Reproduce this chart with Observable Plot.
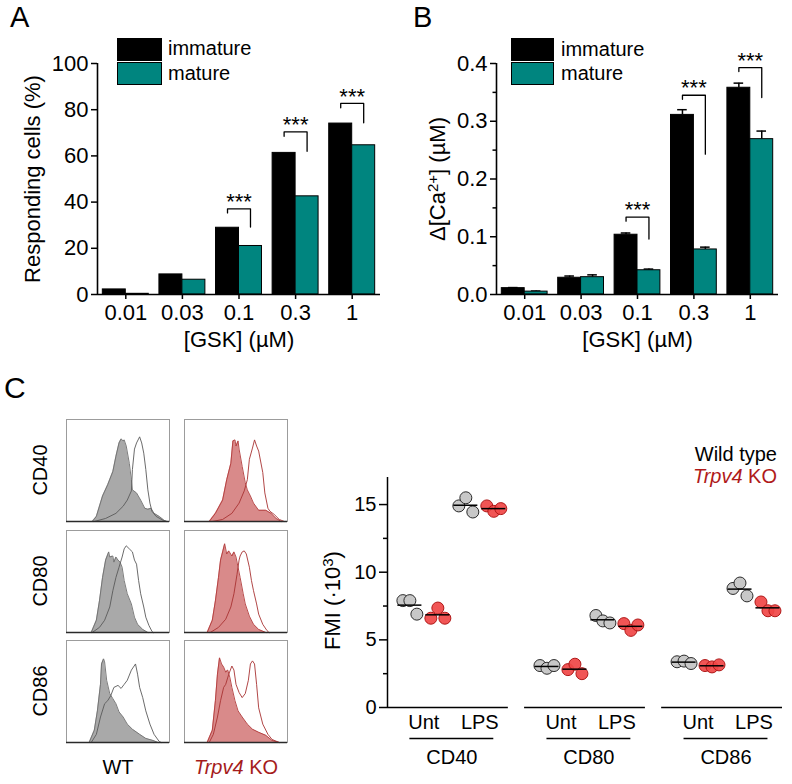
<!DOCTYPE html>
<html>
<head>
<meta charset="utf-8">
<script src="https://cdn.jsdelivr.net/npm/d3@7"></script>
<script src="https://cdn.jsdelivr.net/npm/@observablehq/plot@0.6"></script>
<style>
  body { margin: 0; background: #fff; font-family: "Liberation Sans", Arial, Helvetica, sans-serif; }
  #fig { position: relative; width: 792px; height: 784px; overflow: hidden; background: #fff; }
  .t { position: absolute; white-space: nowrap; line-height: 1; color: #000; }
  .sw { position: absolute; box-sizing: border-box; border: 1.5px solid #000; }
</style>
</head>
<body>
<div id="fig"></div>
<script>
// ---------------- DATA ----------------
const doses = ["0.01", "0.03", "0.1", "0.3", "1"];
// Panel A: responding cells (%)
const respImmature = [2.2, 8.7, 28.9, 61.3, 74.0];
const respMature   = [0.3, 6.4, 21.0, 42.5, 64.6];
const sigAIndex = [2, 3, 4];
const sigATop   = [37.1, 70.4, 82.7];
const sigALeft  = [35.3, 68.5, 80.8];
const sigARight = [29.2, 62.0, 74.3];
// Panel B: delta [Ca2+] (uM)
const caImmature    = [0.011, 0.029, 0.1035, 0.311, 0.358];
const caImmatureErr = [0.001, 0.003, 0.003, 0.009, 0.008];
const caMature      = [0.005, 0.030, 0.042, 0.078, 0.269];
const caMatureErr   = [0.001, 0.004, 0.002, 0.004, 0.014];
const sigBIndex = [2, 3, 4];
const sigBTop   = [0.134, 0.345, 0.393];
const sigBLeft  = [0.127, 0.338, 0.386];
const sigBRight = [0.096, 0.243, 0.341];
const ticksA = [0, 20, 40, 60, 80, 100];
const ticksB = [0, 0.1, 0.2, 0.3, 0.4];
const minorB = [0.05, 0.15, 0.25, 0.35];

// Panel C: histograms ([x %, count %] read from each box)
const wtCD40Unt = [[25,0],[29,5],[35,25],[40,36],[45,49],[48,64],[51,77],[53,81],[55,79],[56,80],[58,74],[61,57],[63,41],[64,31],[68,28],[72,21],[76,13],[79,12],[82,13],[85,8],[90,5],[95,1],[97,0]];
const wtCD40LPS = [[27,0],[38,3],[48,8],[55,15],[59,21],[63,30],[64,51],[66,71],[68,77],[71,83],[73,77],[75,67],[77,51],[79,31],[81,18],[83,10],[87,5],[94,1],[98,0]];
const koCD40Unt = [[24,0],[30,8],[37,21],[41,41],[45,57],[47,79],[49,80],[50,74],[52,79],[53,71],[56,54],[59,38],[61,31],[64,25],[67,18],[72,11],[79,11],[84,8],[89,3],[94,0]];
const koCD40LPS = [[27,0],[37,2],[46,8],[53,18],[58,30],[61,41],[63,61],[66,72],[68,80],[70,74],[72,69],[76,48],[78,28],[81,13],[83,10],[87,7],[92,2],[97,0]];
const wtCD80Unt = [[24,0],[29,12],[32,31],[35,54],[38,71],[41,79],[42,74],[45,75],[46,69],[48,74],[50,71],[52,69],[54,64],[56,51],[59,38],[63,28],[66,15],[69,8],[74,3],[79,0]];
const wtCD80LPS = [[25,0],[32,5],[37,12],[42,25],[45,41],[48,54],[51,64],[54,74],[56,82],[58,85],[61,82],[64,79],[66,71],[68,67],[70,51],[72,38],[75,25],[77,15],[80,7],[83,1],[84,0]];
const koCD80Unt = [[22,0],[27,12],[30,31],[33,54],[35,71],[37,79],[39,87],[41,77],[43,80],[46,75],[48,79],[50,74],[52,64],[54,54],[57,38],[59,28],[63,16],[67,8],[72,3],[79,0]];
const koCD80LPS = [[25,0],[33,5],[40,13],[45,25],[48,38],[51,57],[53,71],[54,75],[56,79],[58,80],[60,77],[63,64],[65,51],[67,41],[70,28],[72,18],[76,8],[80,2],[82,0]];
const wtCD86Unt = [[22,0],[27,12],[30,31],[33,57],[34,77],[36,82],[37,79],[39,61],[42,48],[45,43],[48,38],[51,30],[55,25],[59,18],[64,13],[71,8],[77,4],[84,2],[89,0]];
const wtCD86LPS = [[24,0],[29,8],[33,25],[37,38],[40,41],[43,46],[46,54],[50,56],[53,53],[56,57],[59,61],[63,71],[65,74],[67,77],[69,67],[71,54],[74,44],[77,31],[81,18],[85,8],[90,1],[92,0]];
const koCD86Unt = [[22,0],[27,12],[30,41],[32,67],[34,83],[36,77],[38,74],[40,69],[42,71],[44,64],[46,54],[49,41],[52,31],[56,25],[61,18],[66,13],[72,10],[79,7],[85,2],[92,0]];
const koCD86LPS = [[24,0],[28,8],[32,25],[35,41],[38,54],[40,57],[43,67],[46,75],[48,71],[50,57],[53,49],[56,44],[59,48],[62,61],[64,77],[66,80],[68,77],[70,57],[72,34],[76,18],[81,8],[85,3],[92,0]];

// Panel C: FMI (x10^3), three replicates each, per marker CD40, CD80, CD86
const markers = ["CD40", "CD80", "CD86"];
const treatments = ["Unt", "LPS"];
const fmiWTUnt  = [[7.9, 7.9, 6.9],   [3.1, 2.9, 3.1],   [3.38, 3.43, 3.25]];
const fmiKOUnt  = [[6.6, 7.35, 6.6],  [2.8, 3.2, 2.5],   [3.1, 3.0, 3.15]];
const fmiWTLPS  = [[14.9, 15.5, 14.45],[6.8, 6.4, 6.25], [8.8, 9.2, 8.25]];
const fmiKOLPS  = [[14.9, 14.5, 14.7],[6.2, 5.7, 6.1],   [7.8, 7.15, 7.15]];
const fmiTicks = [0, 5, 10, 15];
const fmiMinor = [2.5, 7.5, 12.5];

// ---------------- STYLE ----------------
const FONT = '"Liberation Sans", Arial, Helvetica, sans-serif';
const TEAL = "#00857f";
const KO_TEXT = "#a51c1c";
const fig = document.getElementById("fig");

function place(node, left, top, w) {
  const d = document.createElement("div");
  d.style.position = "absolute";
  d.style.left = left + "px";
  d.style.top = top + "px";
  if (w) d.style.width = w + "px";
  d.appendChild(node);
  fig.appendChild(d);
  return d;
}
function text(html, left, top, size, opts = {}) {
  const d = document.createElement("div");
  d.className = "t";
  d.innerHTML = html;
  d.style.left = left + "px";
  d.style.top = top + "px";
  d.style.fontSize = size + "px";
  if (opts.color) d.style.color = opts.color;
  if (opts.align === "right") d.style.transform = "translateX(-100%)";
  if (opts.align === "center") d.style.transform = "translateX(-50%)";
  fig.appendChild(d);
  return d;
}
function swatch(left, top, w, h, color) {
  const d = document.createElement("div");
  d.className = "sw";
  d.style.left = left + "px"; d.style.top = top + "px";
  d.style.width = w + "px"; d.style.height = h + "px";
  d.style.background = color;
  fig.appendChild(d);
}
function setLabel(svg, axisName, html) {
  const t = svg.querySelector(`g[aria-label="${axisName}"] text`);
  if (t) t.innerHTML = html;
  return t;
}

// ---------------- BAR PANELS ----------------
const W = 0.406; // bar width in category units
function barPanel(o) {
  const imm = doses.map((d, i) => ({x1: i - W, x2: i, xc: i - W / 2, v: o.imm[i], e: o.immErr ? o.immErr[i] : 0}));
  const mat = doses.map((d, i) => ({x1: i, x2: i + W, xc: i + W / 2, v: o.mat[i], e: o.matErr ? o.matErr[i] : 0}));
  const bracket = o.sigIdx.flatMap((i, k) => [
    {k, x: i - W / 2, y: o.sigLeft[k]},
    {k, x: i - W / 2, y: o.sigTop[k]},
    {k, x: i + W / 2, y: o.sigTop[k]},
    {k, x: i + W / 2, y: o.sigRight[k]}
  ]);
  const stars = o.sigIdx.map((i, k) => ({x: i, y: o.sigTop[k]}));
  const errs = o.immErr ? imm.concat(mat) : [];
  const marks = [
    Plot.ruleX(errs, {x: "xc", y1: "v", y2: d => d.v + d.e, strokeWidth: 1.5}),
    Plot.ruleY(errs, {y: d => d.v + d.e, x1: d => d.xc - 0.085, x2: d => d.xc + 0.085, strokeWidth: 1.5}),
    Plot.rectY(imm, {x1: "x1", x2: "x2", y1: 0, y2: "v", fill: "black", stroke: "black", strokeWidth: 1}),
    Plot.rectY(mat, {x1: "x1", x2: "x2", y1: 0, y2: "v", fill: TEAL, stroke: "black", strokeWidth: 1}),
    Plot.line(bracket, {x: "x", y: "y", z: "k", stroke: "black", strokeWidth: 1.3}),
    Plot.text(stars, {x: "x", y: "y", text: () => "***", fontSize: 22, dy: -7, lineAnchor: "middle"}),
    Plot.ruleY([0], {strokeWidth: 1.6}),
    Plot.ruleX([-0.5], {strokeWidth: 1.6}),
    Plot.axisY({ticks: o.yTicks, tickFormat: o.fmt, tickSize: 6, tickPadding: 3, strokeWidth: 1.5,
      label: o.ylabel, labelAnchor: "center", labelOffset: o.labelOffset, labelArrow: "none"}),
    Plot.axisX({ticks: [0, 1, 2, 3, 4], tickFormat: i => doses[i], tickSize: 5, tickPadding: 5, strokeWidth: 1.5,
      label: "[GSK] (µM)", labelAnchor: "center", labelOffset: 52, labelArrow: "none"})
  ];
  if (o.yMinor) marks.push(Plot.axisY({ticks: o.yMinor, tickSize: 3.5, tickFormat: () => "", strokeWidth: 1.5, label: null}));
  return Plot.plot({
    width: o.width, height: 352,
    marginLeft: o.marginLeft, marginRight: o.marginRight, marginTop: 63, marginBottom: 58,
    style: {fontFamily: FONT, fontSize: "22px", color: "black", background: "transparent", overflow: "visible"},
    x: {domain: [-0.5, 4.5]},
    y: {domain: o.yDomain},
    marks
  });
}

const plotA = barPanel({
  imm: respImmature, mat: respMature, yDomain: [0, 100], yTicks: ticksA, fmt: d => String(d),
  ylabel: "Responding cells (%)", labelOffset: 73,
  sigIdx: sigAIndex, sigTop: sigATop, sigLeft: sigALeft, sigRight: sigARight,
  width: 395, marginLeft: 97, marginRight: 15
});
place(plotA, 0, 0, 395);

const plotB = barPanel({
  imm: caImmature, mat: caMature, immErr: caImmatureErr, matErr: caMatureErr,
  yDomain: [0, 0.4], yTicks: ticksB, yMinor: minorB, fmt: d3.format(".1f"),
  ylabel: "Δ[Ca2+] (µM)", labelOffset: 67,
  sigIdx: sigBIndex, sigTop: sigBTop, sigLeft: sigBLeft, sigRight: sigBRight,
  width: 392, marginLeft: 96, marginRight: 14
});
setLabel(plotB, "y-axis label", 'Δ[Ca<tspan dy="-7" font-size="15">2+</tspan><tspan dy="7">] (µM)</tspan>');
place(plotB, 400, 0, 392);

// legends A & B
swatch(117, 38, 45, 23, "black");
swatch(117, 62, 45, 23, TEAL);
text("immature", 168, 38, 20);
text("mature", 168, 63, 20);
swatch(511, 38, 43, 23, "black");
swatch(511, 62, 43, 23, TEAL);
text("immature", 561, 39, 20);
text("mature", 561, 63, 20);

// panel letters
text("A", 10, 3, 29);
text("B", 413, 3, 29);
text("C", 4, 373, 30);

// ---------------- HISTOGRAMS ----------------
const WT_COL = {fill: "#a9a9a9", edge: "#6e6e6e", line: "#5a5a5a"};
const KO_COL = {fill: "#d98a8a", edge: "#b13a3a", line: "#a83232"};
function histPlot(fillData, lineData, col) {
  return Plot.plot({
    width: 103, height: 102, margin: 0,
    style: {background: "transparent", overflow: "visible"},
    x: {domain: [0, 100], axis: null},
    y: {domain: [0, 100], axis: null},
    marks: [
      Plot.areaY(fillData, {x: d => d[0], y: d => d[1], fill: col.fill}),
      Plot.lineY(fillData, {x: d => d[0], y: d => d[1], stroke: col.edge, strokeWidth: 0.9}),
      Plot.lineY(lineData, {x: d => d[0], y: d => d[1], stroke: col.line, strokeWidth: 0.9}),
      Plot.frame({stroke: "#9c9c9c", strokeWidth: 1}),
      Plot.ruleY([0], {stroke: "#2a2a2a", strokeWidth: 1.3})
    ]
  });
}
const histRows = [
  [wtCD40Unt, wtCD40LPS, koCD40Unt, koCD40LPS],
  [wtCD80Unt, wtCD80LPS, koCD80Unt, koCD80LPS],
  [wtCD86Unt, wtCD86LPS, koCD86Unt, koCD86LPS]
];
const rowTops = [419, 530, 640];
histRows.forEach((r, i) => {
  place(histPlot(r[0], r[1], WT_COL), 66, rowTops[i], 103);
  place(histPlot(r[2], r[3], KO_COL), 184, rowTops[i], 103);
  const lab = text(markers[i], 39.5, rowTops[i] + 51, 20, {});
  lab.style.transform = "translate(-50%, -50%) rotate(-90deg)";
});
text("WT", 118, 757, 20, {align: "center"});
text('<i>Trpv4</i> KO', 236, 757, 20, {align: "center", color: KO_TEXT});

// ---------------- DOT PLOT ----------------
const GAP = 4.9; // slots between marker groups
const slotSets = [fmiWTUnt, fmiKOUnt, fmiWTLPS, fmiKOLPS];
const slotGeno = ["WT", "KO", "WT", "KO"];
const dots = [], means = [];
markers.forEach((m, g) => slotSets.forEach((set, s) => {
  const vals = set[g];
  const c = g * GAP + s;
  vals.forEach((v, r) => dots.push({x: c + (r - 1) * 0.25, y: v, geno: slotGeno[s]}));
  means.push({x1: c - 0.43, x2: c + 0.43, y: d3.mean(vals)});
}));
const groupIdx = markers.map((m, g) => g);
const treatLabels = markers.flatMap((m, g) => treatments.map((t, j) => ({x: g * GAP + 0.5 + 2 * j, t})));
const plotC = Plot.plot({
  width: 492, height: 364, marginLeft: 87, marginRight: 10, marginTop: 57, marginBottom: 77,
  style: {fontFamily: FONT, fontSize: "20px", color: "black", background: "transparent", overflow: "visible"},
  x: {domain: [-0.8, 2 * GAP + 3.52], axis: null},
  y: {domain: [0, 17]},
  marks: [
    Plot.ruleX([-0.8], {strokeWidth: 1.5}),
    Plot.ruleY(groupIdx, {y: 0, x1: g => g * GAP - 0.8, x2: g => g * GAP + 3.52, strokeWidth: 1.5}),
    Plot.dot(dots.filter(d => d.geno === "WT"), {x: "x", y: "y", r: 6, fill: "#c8c8c8", stroke: "#2b2b2b", strokeWidth: 1}),
    Plot.dot(dots.filter(d => d.geno === "KO"), {x: "x", y: "y", r: 6, fill: "#f04646", fillOpacity: 0.92, stroke: "#b01818", strokeWidth: 1}),
    Plot.ruleY(means, {x1: "x1", x2: "x2", y: "y", strokeWidth: 1.5}),
    Plot.axisY({ticks: fmiTicks, tickSize: 8, tickPadding: 3, strokeWidth: 1.5,
      label: "FMI (·103)", labelAnchor: "center", labelOffset: 63, labelArrow: "none"}),
    Plot.axisY({ticks: fmiMinor, tickSize: 4, tickFormat: () => "", strokeWidth: 1.5, label: null}),
    Plot.text(treatLabels, {x: "x", y: 0, text: "t", dy: 15, lineAnchor: "middle", fontSize: 20}),
    Plot.ruleY(groupIdx, {y: 0, x1: g => g * GAP, x2: g => g * GAP + 3, dy: 31, strokeWidth: 1.3}),
    Plot.text(groupIdx, {x: g => g * GAP + 1.5, y: 0, text: g => markers[g], dy: 50, lineAnchor: "middle", fontSize: 20})
  ]
});
const fmiText = setLabel(plotC, "y-axis label", 'FMI (·10<tspan dy="-7" font-size="15">3</tspan><tspan dy="7">)</tspan>');
if (fmiText) fmiText.setAttribute("font-size", "22");
const fmiLabel = plotC.querySelector('g[aria-label="y-axis label"]');
if (fmiLabel) {
  const tr = fmiLabel.getAttribute("transform") || "";
  fmiLabel.setAttribute("transform", `translate(0,8) ${tr}`);
}
place(plotC, 300, 420, 492);

text("Wild type", 777, 444, 20, {align: "right"});
text('<i>Trpv4</i> KO', 777, 466, 20, {align: "right", color: "#b01a1a"});
</script>
</body>
</html>
